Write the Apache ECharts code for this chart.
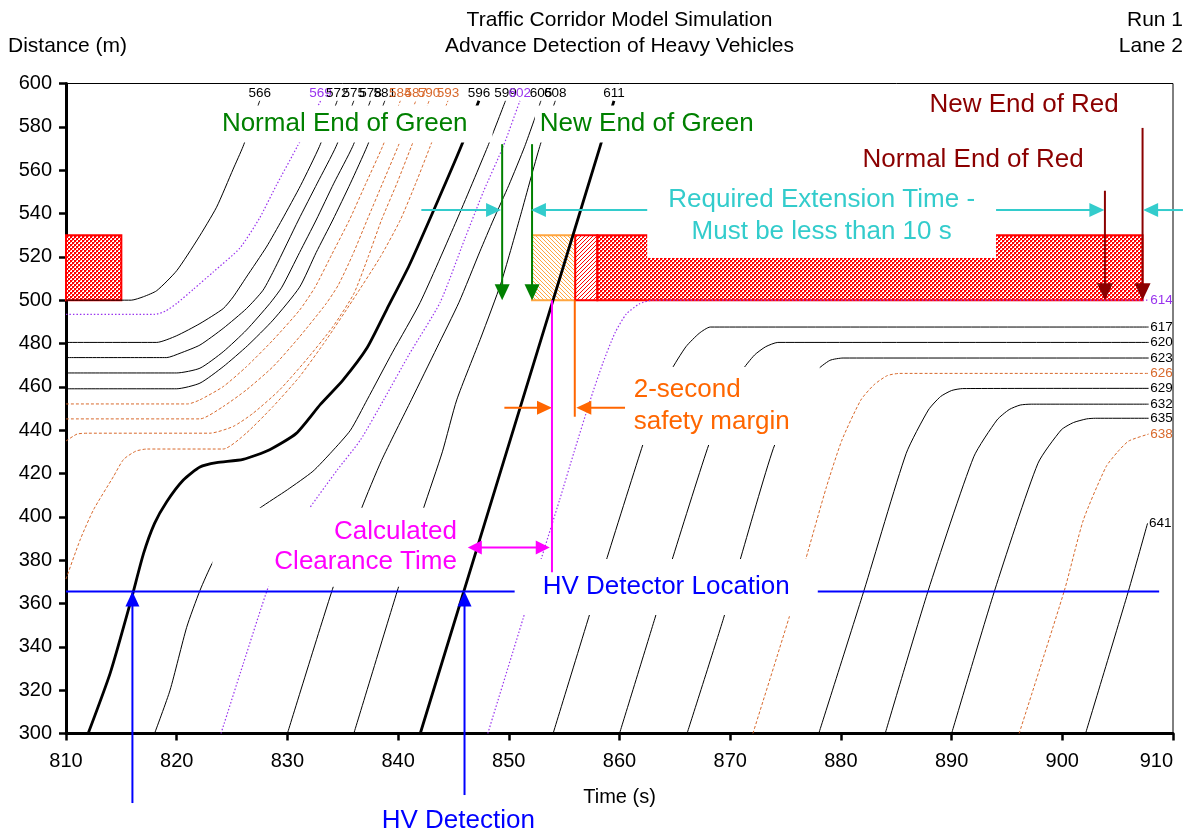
<!DOCTYPE html>
<html>
<head>
<meta charset="utf-8">
<title>Traffic Corridor Model Simulation</title>
<script src="https://cdn.jsdelivr.net/npm/echarts@6/dist/echarts.min.js"></script>
<style>
  html, body { margin: 0; padding: 0; background: #fff; }
  #chart { width: 1193px; height: 832px; }
</style>
</head>
<body>
<div id="chart"></div>
<script>
// Time–space diagram of lane 2: vehicle trajectories [time (s), distance (m)]
const timeAxis = { min: 810, max: 910, step: 10 };
const distAxis = { min: 300, max: 600, step: 20 };

const v566 = [[810,500],[815.9,500],[817,501.6],[818.2,504.4],[820,513.6],[821.9,528.2],[823.6,542.9],[825.1,560.5],[826,571],[827.5,592]];
const v569 = [[810,493.4],[818,493.4],[819,495],[820,498.5],[821.5,505],[823.3,513],[825.7,524],[827.5,538],[829,553],[830.9,571],[833,592]];
const v572 = [[810,480.5],[818.2,480.5],[820,483.6],[822.1,489.2],[824.2,496.1],[825.1,501.5],[826.3,510.7],[828.1,524.5],[829.5,537],[831.2,553],[832.9,571],[834.5,592]];
const v575 = [[810,473.5],[819.1,473.5],[820.3,475.5],[822.1,479.3],[824.2,487],[826.3,496.1],[827.8,504.6],[828.9,515],[831,537],[832.7,554],[834.4,571],[836,592]];
const v578 = [[810,466.4],[820,466.4],[822.1,468.6],[824.2,476.2],[826.3,486.2],[828.4,498.4],[829.5,506],[831.1,522],[832.6,537],[834.2,554],[835.9,571],[837.5,592]];
const v581 = [[810,459.1],[820,459.1],[822.1,461.7],[824.2,469.3],[826.4,479],[828.7,490.8],[831.1,506],[832.6,522],[834.1,537],[835.7,554],[837.2,571],[838.8,592]];
const v584 = [[810,452.1],[821,452.1],[822.1,454],[824.2,460.1],[826.3,469.3],[828.7,481.6],[831.1,495.4],[832.5,506],[834,521],[835.6,537],[837.1,554],[838.6,571],[840.2,592]];
const v587 = [[810,445.2],[822.1,445.2],[824.2,450.9],[826.3,458.6],[828.7,469.3],[831.1,483.1],[833.5,498.4],[834.6,507],[835.9,521],[837.2,537],[838.6,554],[840,571],[841.6,592]];
const v590 = [[810,435],[811,438.2],[812,438.6],[823,438.6],[825.1,441.7],[826.9,447.8],[829.3,458.6],[831.7,472.4],[834.1,487.7],[836,503],[837.3,520],[838.5,537],[839.9,554],[841.2,571],[842.8,592]];
const v593 = [[810,371.3],[811.3,389.7],[812.5,403.4],[814.3,418.7],[815.2,426.5],[816.3,430.3],[817.3,431.3],[824.2,431.3],[826.3,438.7],[828.7,450.9],[831.1,464.7],[833.5,481.6],[835.9,500],[838.4,520],[840.2,537],[841.6,554],[842.9,571],[844.5,592]];
const v596 = [[812,300],[814,328],[815.9,362],[817,383],[818,397],[819.1,407],[820.6,417],[822.1,423],[823.6,425],[826,426.5],[828.4,431],[830.8,438.5],[833,452],[835,463],[837.2,478],[839,496],[841,516],[843.6,546],[845.7,571],[847.3,592]];
const v599 = [[818,300],[819.4,320],[820.9,349],[822.1,366],[823.2,378.5],[824.5,389.3],[826,397.5],[827.5,404],[830,412.5],[832.3,421],[834,430],[835.7,440],[837.2,454],[839.5,476],[842,499],[845.3,537],[848.1,571],[849.7,592]];
const v602 = [[824,300],[826,332],[828.3,368],[830,388],[832,404],[834.5,421.6],[836.6,435.5],[838.7,454],[841,475],[843.8,499],[846,528],[847.7,550],[849.5,571],[851,592]];
const v605 = [[830,300],[834.15,367.8],[836.7,403.9],[838.5,426],[841.2,454],[843.5,478],[845.5,499],[847.4,522.6],[848.6,537],[850,553],[851.44,571],[852.9,592]];
const v608 = [[836,300],[840,367],[842.3,404],[844,430],[845.3,454],[847.5,483],[849.3,508],[851,538],[852.8,571],[854.2,592]];
const v611 = [[842,300],[854,500],[858.25,571],[859.5,592]];
const v614 = [[848.1,300],[851.3,353.2],[852.8,378.5],[854.6,408],[855.9,430],[857.3,453],[858.5,471],[859.6,485],[860.6,493.5],[861.8,498.3],[863,500],[907.8,500]];
const v617 = [[854,300],[858.75,379],[862,431.6],[863.3,451],[864.6,467],[866,478.5],[867.2,484.7],[868.2,487.6],[907.8,487.6]];
const v620 = [[860,300],[863.2,353.2],[864.7,379.3],[867.95,431.6],[869.5,452],[871,467],[872.2,474.7],[873.2,478.5],[874.3,480.5],[907.8,480.5]];
const v623 = [[866.1,300],[869.4,353.2],[870.85,379.3],[873.9,431.6],[875.8,452],[877.7,467],[879,472.2],[880.2,473.3],[907.8,473.3]];
const v626 = [[872.05,300],[875.3,353.2],[876.8,380],[878.7,413.9],[880.1,435.5],[881.8,453.9],[883,461],[884.2,465.2],[885.3,466.2],[907.8,466.2]];
const v629 = [[878,300],[882.1,366.2],[885.9,429.3],[887.9,449.3],[889,455.5],[890,458.3],[891,459.2],[907.8,459.3]];
const v632 = [[884,300],[887.9,366.2],[892,427.7],[894.1,444.7],[895.2,449.5],[896.2,451.6],[897.2,452],[907.8,452]];
const v635 = [[890,300],[893.9,366.2],[897.8,424.7],[899.9,440.1],[901,443.5],[902.2,445.2],[903,445.5],[907.8,445.5]];
const v638 = [[896.1,300],[900.2,366.2],[901.9,398.5],[903.95,423.1],[905,430],[906,435],[907.8,438.2]];
const v641 = [[902.1,300],[906,366.2],[907.7,397]];

// vehicle id, drawing style and path; 'hv' marks the heavy vehicles
const vehicles = [
  ['566','car',v566], ['569','dot',v569], ['572','car',v572], ['575','car',v575],
  ['578','car',v578], ['581','car',v581], ['584','dash',v584], ['587','dash',v587],
  ['590','dash',v590], ['593','dash',v593], ['596','hv',v596], ['599','car',v599],
  ['602','dot',v602], ['605','car',v605], ['608','car',v608], ['611','hv',v611],
  ['614','dot',v614], ['617','car',v617], ['620','car',v620], ['623','car',v623],
  ['626','dash',v626], ['629','car',v629], ['632','car',v632], ['635','car',v635],
  ['638','dash',v638], ['641','car',v641]
];

// signal phases at the stop line: [start (s), end (s), lower (m), upper (m), fill]
const signalBlocks = [
  [810, 815, 500, 530, 'red'],
  [852.1, 856, 500, 530, 'amber'],
  [856, 858, 500, 530, 'clear'],
  [858, 907.25, 500, 530, 'red']
];

// detector, clearance and phase-end markers: from, to, colour, width, head
const markers = [
  { from:[810,365.5], to:[908.75,365.5], color:'#0000ff', w:2 },
  { from:[816,267.9], to:[816,365.5], color:'#0000ff', w:2, head:[15,14] },
  { from:[846,271.6], to:[846,365.5], color:'#0000ff', w:2, head:[15,14] },
  { from:[849.4,572], to:[849.4,500], color:'#008000', w:2, head:[16,15] },
  { from:[852.1,572], to:[852.1,500], color:'#008000', w:2, head:[16,15] },
  { from:[903.85,550.5], to:[903.85,500], color:'#8b0000', w:2, head:[17,16] },
  { from:[907.25,579.5], to:[907.25,500], color:'#8b0000', w:2, head:[17,16] },
  { from:[842.1,541.6], to:[849.3,541.6], color:'#33cccc', w:2, head:[15,14] },
  { from:[866,541.6], to:[852,541.6], color:'#33cccc', w:2, head:[15,14] },
  { from:[889,541.6], to:[903.8,541.6], color:'#33cccc', w:2, head:[15,14] },
  { from:[910.9,541.6], to:[907.3,541.6], color:'#33cccc', w:2, head:[15,14] },
  { from:[846.3,385.8], to:[853.7,385.8], color:'#ff00ff', w:2, head:[14,14], both:true },
  { from:[849.6,450.4], to:[853.9,450.4], color:'#ff6600', w:2, head:[15,14] },
  { from:[860.5,450.4], to:[856.1,450.4], color:'#ff6600', w:2, head:[15,14] },
  { from:[855.96,500], to:[855.96,446.2], color:'#ff6600', w:2 }
];
const clearanceLine = [{ from:[853.9,500], to:[853.9,374.4], color:'#ff00ff', w:2 }];

// annotation texts: text, anchor [s, m], colour, align, line height, padding, white box
const notes = [
  ['Normal End of Green', [823.63,581.3], '#008000', 'left', 26, [0,25,11,5], true],
  ['New End of Green', [852.35,581.3], '#008000', 'left', 26, [0,10,11,5], true],
  ['New End of Red', [888.0,590.2], '#8b0000', 'left', 26, [0,0,0,0], false],
  ['Normal End of Red', [881.96,564.8], '#8b0000', 'left', 26, [0,0,0,0], false],
  ['Required Extension Time -\nMust be less than 10 s', [878.26,539.1], '#33cccc', 'center', 32, [8,21,13,21], true],
  ['2-second\nsafety margin', [860.56,451.2], '#ff6600', 'left', 32, [2,30,12,8], true],
  ['Calculated\nClearance Time', [845.58,386.0], '#ff00ff', 'right', 30, [6,3,13,62], true],
  ['HV Detector Location', [864.22,367.6], '#0000ff', 'center', 26, [10,28,20,28], true],
  ['HV Detection', [845.44,259.5], '#0000ff', 'center', 26, [0,0,0,0], false]
];

const FONT = '"Liberation Sans", Arial, Helvetica, sans-serif';
const styleOf = {
  car:  { color:'#000000', width:1, type:'solid' },
  hv:   { color:'#000000', width:2.8, type:'solid' },
  dot:  { color:'#9933ee', width:1.2, type:[1.5,2] },
  dash: { color:'#d8692c', width:1, type:[3,2] }
};
const labelColor = { car:'#000000', hv:'#000000', dot:'#9933ee', dash:'#d8692c' };

// hatch tiles for the signal blocks
function tile(kind) {
  const n = 4;
  const c = document.createElement('canvas');
  c.width = n; c.height = n;
  const g = c.getContext('2d');
  if (kind === 'red') {
    g.fillStyle = '#ff0000'; g.fillRect(0, 0, n, n);
    g.fillStyle = '#ffffff';
    g.fillRect(0, 0, 2, 2); g.fillRect(2, 2, 2, 2);
    g.fillStyle = '#ff6666';
    g.fillRect(0, 0, 1, 1); g.fillRect(2, 2, 1, 1);
  } else {
    g.fillStyle = '#ffffff'; g.fillRect(0, 0, n, n);
    g.fillStyle = kind === 'amber' ? '#ffa640' : '#ff0000';
    for (let x = 0; x < n; x++) for (let y = 0; y < n; y++) {
      const k = kind === 'amber' ? ((x - y) % n + n) % n : (x + y) % n;
      if (k === 0) g.fillRect(x, y, 1, 1);
    }
  }
  return c;
}
const fills = {
  red:   { fill: { image: tile('red'), repeat: 'repeat' }, stroke: '#ff0000' },
  amber: { fill: { image: tile('amber'), repeat: 'repeat' }, stroke: '#ffa640' },
  clear: { fill: { image: tile('clear'), repeat: 'repeat' }, stroke: '#ff0000' }
};

function arrowRenderer(list) {
  return function (params, api) {
    const a = list[params.dataIndex];
    const p0 = api.coord(a.from), p1 = api.coord(a.to);
    const dx = p1[0] - p0[0], dy = p1[1] - p0[1];
    const len = Math.hypot(dx, dy) || 1;
    const ux = dx / len, uy = dy / len;
    const children = [];
    let s = p0, e = p1;
    const head = (tip, vx, vy) => {
      const [hl, hw] = a.head;
      const bx = tip[0] - vx * hl, by = tip[1] - vy * hl;
      const nx = -vy * hw / 2, ny = vx * hw / 2;
      return { type:'polygon', shape:{ points:[[tip[0],tip[1]],[bx+nx,by+ny],[bx-nx,by-ny]] },
               style:{ fill:a.color } };
    };
    if (a.head) {
      e = [p1[0] - ux * a.head[0] * 0.8, p1[1] - uy * a.head[0] * 0.8];
      children.push(head(p1, ux, uy));
      if (a.both) {
        s = [p0[0] + ux * a.head[0] * 0.8, p0[1] + uy * a.head[0] * 0.8];
        children.push(head(p0, -ux, -uy));
      }
    }
    children.unshift({ type:'line', shape:{ x1:s[0], y1:s[1], x2:e[0], y2:e[1] },
                       style:{ stroke:a.color, lineWidth:a.w } });
    return { type:'group', children };
  };
}

const hidden = { color:'rgba(0,0,0,0)', opacity:1 };
const series = [];

series.push({
  type:'custom', name:'signal', z:1, silent:true, clip:false,
  data: signalBlocks.map(b => [b[0], b[2], b[1], b[3]]),
  encode:{ x:[0,2], y:[1,3] },
  renderItem(params, api) {
    const b = signalBlocks[params.dataIndex];
    const p0 = api.coord([b[0], b[3]]), p1 = api.coord([b[1], b[2]]);
    const f = fills[b[4]];
    return { type:'rect',
      shape:{ x:p0[0], y:p0[1], width:p1[0]-p0[0], height:p1[1]-p0[1] },
      style:{ fill:f.fill, stroke:f.stroke, lineWidth:2 } };
  }
});

vehicles.forEach(([id, kind, path]) => {
  const st = styleOf[kind];
  series.push({
    type:'line', name:id, data:path, showSymbol:false, symbol:'none',
    smooth:0.2, silent:true,
    z: kind === 'hv' ? 4 : 3,
    lineStyle:{ color:st.color, width:st.width, type:st.type, opacity:1 }
  });
});

series.push({
  type:'scatter', name:'vehicle ids', z:6, silent:true, symbolSize:1,
  itemStyle: hidden,
  data: vehicles.map(([id, kind, path]) => {
    const last = path[path.length - 1];
    const top = last[1] > 590;
    return { value:last, name:id, label:{
      show:true, formatter:id, color:labelColor[kind], opacity:1, fontFamily:FONT, fontSize:13.5,
      position: top ? 'top' : 'right', distance: top ? 0 : 1 } };
  })
});

series.push({
  type:'custom', name:'markers', z:5, silent:true, clip:false,
  data: markers.map(m => [m.from[0], m.from[1], m.to[0], m.to[1]]),
  encode:{ x:[0,2], y:[1,3] },
  renderItem: arrowRenderer(markers)
});

series.push({
  type:'scatter', name:'notes', z:10, silent:true, clip:false, symbolSize:1,
  itemStyle: hidden,
  data: notes.map(n => ({ value:n[1], label:{
    show:true, formatter:n[0], position:'inside', align:n[3], verticalAlign:'middle',
    color:n[2], opacity:1, fontFamily:FONT, fontSize:26, lineHeight:n[4], padding:n[5],
    backgroundColor: n[6] ? '#ffffff' : 'transparent' } }))
});

series.push({
  type:'custom', name:'clearance', z:12, silent:true, clip:false,
  data: clearanceLine.map(m => [m.from[0], m.from[1], m.to[0], m.to[1]]),
  encode:{ x:[0,2], y:[1,3] },
  renderItem: arrowRenderer(clearanceLine)
});

const axisText = { color:'#000', fontFamily:FONT, fontSize:20 };
const chart = echarts.init(document.getElementById('chart'), null, { renderer:'canvas' });
chart.setOption({
  animation:false,
  backgroundColor:'#ffffff',
  textStyle:{ fontFamily:FONT },
  grid:{ left:66, right:20, top:83.5, bottom:98.5, containLabel:false, outerBoundsMode:'none',
         show:true, borderColor:'#000', borderWidth:1, backgroundColor:'transparent' },
  xAxis:{
    type:'value', min:timeAxis.min, max:timeAxis.max, interval:timeAxis.step,
    axisLine:{ show:true, onZero:false, lineStyle:{ color:'#000', width:3 } },
    axisTick:{ show:true, inside:false, length:7, lineStyle:{ color:'#000', width:2.5 } },
    axisLabel:{ ...axisText, margin:18, alignMaxLabel:'right' },
    splitLine:{ show:false }
  },
  yAxis:{
    type:'value', min:distAxis.min, max:distAxis.max, interval:distAxis.step,
    axisLine:{ show:true, onZero:false, lineStyle:{ color:'#000', width:3 } },
    axisTick:{ show:true, inside:false, length:7, lineStyle:{ color:'#000', width:2.5 } },
    axisLabel:{ ...axisText, margin:14 },
    splitLine:{ show:false }
  },
  graphic:[
    { type:'text', x:619.5, y:20, style:{ text:'Traffic Corridor Model Simulation', font:'21px '+FONT, fill:'#000', align:'center', verticalAlign:'middle' } },
    { type:'text', x:619.5, y:46, style:{ text:'Advance Detection of Heavy Vehicles', font:'21px '+FONT, fill:'#000', align:'center', verticalAlign:'middle' } },
    { type:'text', x:8, y:46, style:{ text:'Distance (m)', font:'21px '+FONT, fill:'#000', align:'left', verticalAlign:'middle' } },
    { type:'text', x:1183, y:20, style:{ text:'Run 1', font:'21px '+FONT, fill:'#000', align:'right', verticalAlign:'middle' } },
    { type:'text', x:1183, y:46, style:{ text:'Lane 2', font:'21px '+FONT, fill:'#000', align:'right', verticalAlign:'middle' } },
    { type:'text', x:619.5, y:797, style:{ text:'Time (s)', font:'20px '+FONT, fill:'#000', align:'center', verticalAlign:'middle' } }
  ],
  series
});
</script>
</body>
</html>
